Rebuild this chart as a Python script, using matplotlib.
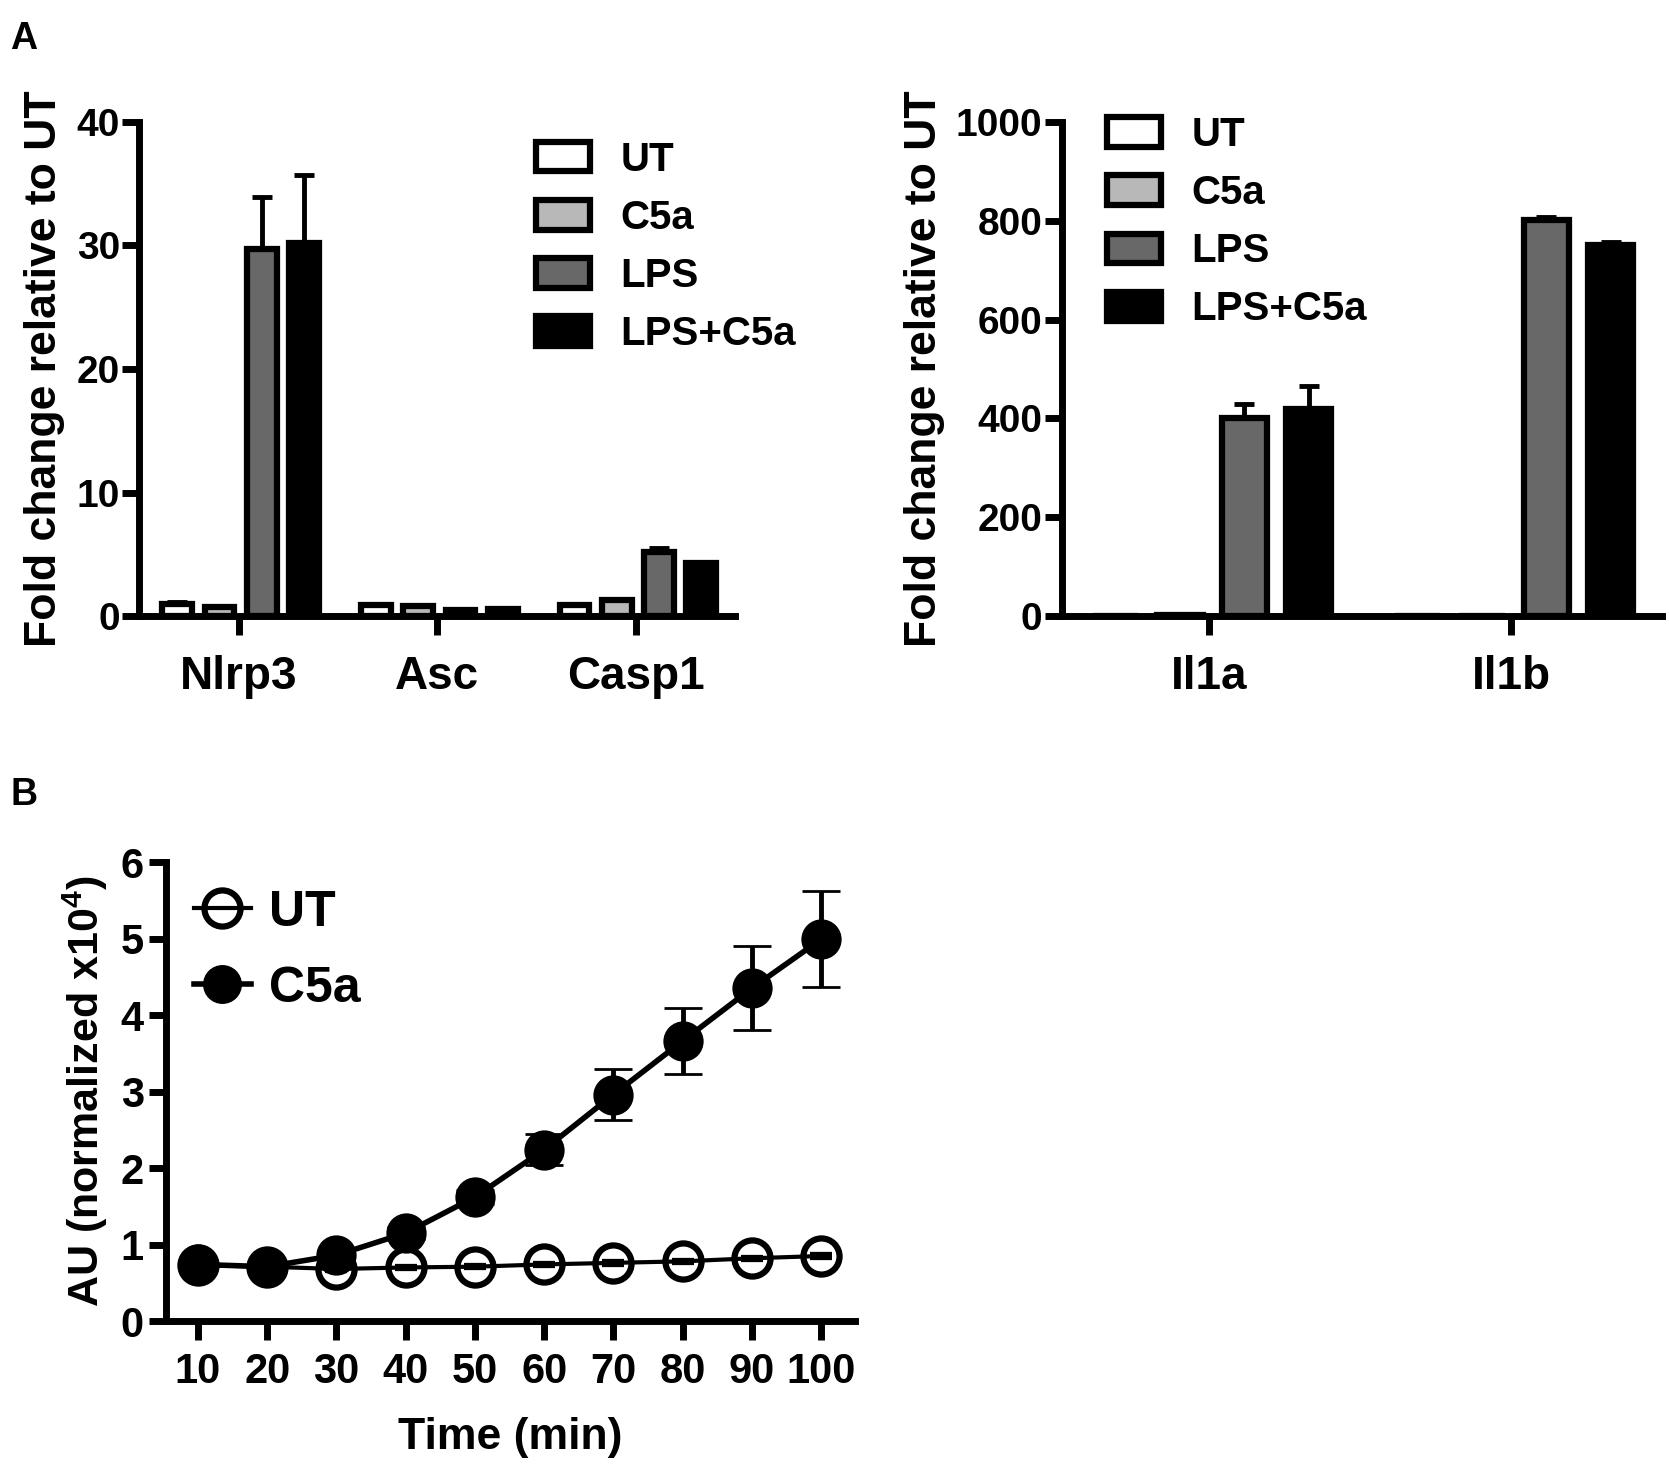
import matplotlib
matplotlib.use("Agg")
import matplotlib.pyplot as plt
from matplotlib.patches import Patch
from matplotlib.lines import Line2D
import numpy as np

plt.rcParams['font.family'] = ['Liberation Sans', 'DejaVu Sans']
plt.rcParams['font.weight'] = 'bold'
plt.rcParams['axes.labelweight'] = 'bold'
plt.rcParams['mathtext.fontset'] = 'custom'
plt.rcParams['mathtext.bf'] = 'Liberation Sans:bold'
plt.rcParams['mathtext.rm'] = 'Liberation Sans:bold'

# ---- panel A data ----
GROUPS      = ["UT", "C5a", "LPS", "LPS+C5a"]
GROUP_COLS  = ["white", "#b8b8b8", "#686868", "black"]

GENES_1 = ["Nlrp3", "Asc", "Casp1"]
VALS_1 = {
    "UT":      [1.0, 0.9, 0.9],
    "C5a":     [0.7, 0.8, 1.3],
    "LPS":     [29.7, 0.45, 5.2],
    "LPS+C5a": [30.2, 0.55, 4.3],
}
ERR_1 = {
    "UT":      [0.1, 0.05, 0.05],
    "C5a":     [0.05, 0.05, 0.1],
    "LPS":     [4.2, 0.02, 0.3],
    "LPS+C5a": [5.5, 0.02, 0.05],
}

GENES_2 = ["Il1a", "Il1b"]
VALS_2 = {
    "UT":      [1.0, 1.0],
    "C5a":     [1.2, 1.0],
    "LPS":     [400, 802],
    "LPS+C5a": [420, 750],
}
ERR_2 = {
    "UT":      [0.1, 0.1],
    "C5a":     [0.2, 0.1],
    "LPS":     [30, 5],
    "LPS+C5a": [45, 8],
}

# ---- panel B data ----
TIME    = [10, 20, 30, 40, 50, 60, 70, 80, 90, 100]
UT_AU   = [0.73, 0.71, 0.68, 0.70, 0.71, 0.74, 0.76, 0.78, 0.82, 0.85]
UT_ERR  = [0.01, 0.01, 0.01, 0.01, 0.01, 0.01, 0.01, 0.01, 0.01, 0.01]
C5A_AU  = [0.74, 0.71, 0.86, 1.15, 1.62, 2.24, 2.96, 3.66, 4.35, 4.99]
C5A_ERR = [0.02, 0.02, 0.05, 0.08, 0.09, 0.20, 0.33, 0.43, 0.55, 0.63]

SPINE_LW = 5.0
EDGE_LW  = 4.5


def style_axes(ax, ticksize):
    for s in ["top", "right"]:
        ax.spines[s].set_visible(False)
    for s in ["left", "bottom"]:
        ax.spines[s].set_linewidth(SPINE_LW)
    ax.tick_params(axis="y", width=SPINE_LW, length=12, labelsize=ticksize, pad=2)


def bar_panel(ax, genes, vals, errs, ymax, ystep):
    x = np.arange(len(genes))
    slot = 0.213
    width = 0.15
    for i, g in enumerate(GROUPS):
        pos = x + (i - 1.5) * slot + 0.01
        ax.bar(pos, vals[g], width, color=GROUP_COLS[i], edgecolor="black",
               linewidth=EDGE_LW, zorder=3)
        ax.errorbar(pos, vals[g], yerr=[np.zeros(len(genes)), errs[g]],
                    fmt="none", ecolor="black", elinewidth=3.5, capsize=7,
                    capthick=3.5, zorder=2)
    ax.set_xlim(-0.5, len(genes) - 0.5)
    ax.set_ylim(0, ymax)
    ax.set_yticks(np.arange(0, ymax + 1, ystep))
    ax.set_xticks(x)
    ax.set_xticklabels(genes, fontsize=33)
    ax.tick_params(axis="x", width=SPINE_LW, length=14, pad=14)
    style_axes(ax, 28)
    ax.set_ylabel("Fold change relative to UT", fontsize=32, labelpad=8)


fig = plt.figure(figsize=(16.69, 14.66), dpi=100)

leg_kw = dict(frameon=False, fontsize=29, handlelength=1.35, handleheight=0.75,
              handletextpad=0.75, labelspacing=0.5, borderpad=0,
              borderaxespad=0, loc="upper left")

ax1 = fig.add_axes([0.0835, 0.5798, 0.3570, 0.3370])
bar_panel(ax1, GENES_1, VALS_1, ERR_1, 40, 10)
handles = [Patch(facecolor=c, edgecolor="black", linewidth=EDGE_LW, label=g)
           for g, c in zip(GROUPS, GROUP_COLS)]
ax1.legend(handles=handles, bbox_to_anchor=(0.665, 0.962), **leg_kw)

ax2 = fig.add_axes([0.6363, 0.5798, 0.3595, 0.3370])
bar_panel(ax2, GENES_2, VALS_2, ERR_2, 1000, 200)
ax2.set_xlim(-0.487, 1.5)
ax2.legend(handles=handles, bbox_to_anchor=(0.075, 1.012), **leg_kw)

# ---- panel B ----
ax3 = fig.add_axes([0.0995, 0.0989, 0.4128, 0.3131])
ax3.errorbar(TIME, UT_AU, yerr=UT_ERR, color="black", lw=3.0, marker="o",
             ms=26, mfc="none", mec="black", mew=4.5, capsize=8, zorder=3)
ax3.errorbar(TIME, C5A_AU, yerr=C5A_ERR, color="black", lw=4.0, marker="o",
             ms=27, mfc="black", mec="black", mew=2, elinewidth=3.5,
             capsize=14, capthick=3.5, zorder=4)
ax3.set_xlim(5.4, 104.9)
ax3.set_ylim(0, 6)
ax3.set_xticks(TIME)
ax3.set_yticks(range(0, 7))
style_axes(ax3, 30)
ax3.tick_params(axis="x", width=SPINE_LW, length=14, labelsize=30, pad=8)
ax3.tick_params(axis="y", pad=4)
ax3.set_xlabel("Time (min)", fontsize=32, labelpad=18)
ax3.set_ylabel(r"AU (normalized x10$^{\mathbf{4}}$)", fontsize=31, labelpad=8)
leg_handles = [
    Line2D([], [], color="black", lw=3.0, marker="o", ms=26, mfc="none",
           mec="black", mew=4.5, label="UT"),
    Line2D([], [], color="black", lw=4.0, marker="o", ms=27, mfc="black",
           mec="black", label="C5a"),
]
ax3.legend(handles=leg_handles, loc="upper left", bbox_to_anchor=(0.04, 0.94),
           frameon=False, fontsize=36, handlelength=1.15, handletextpad=0.35,
           labelspacing=0.6, borderpad=0, borderaxespad=0)

fig.text(0.006, 0.986, "A", fontsize=27, fontweight="bold", va="top")
fig.text(0.006, 0.470, "B", fontsize=27, fontweight="bold", va="top")

fig.savefig("out.png", dpi=100)
